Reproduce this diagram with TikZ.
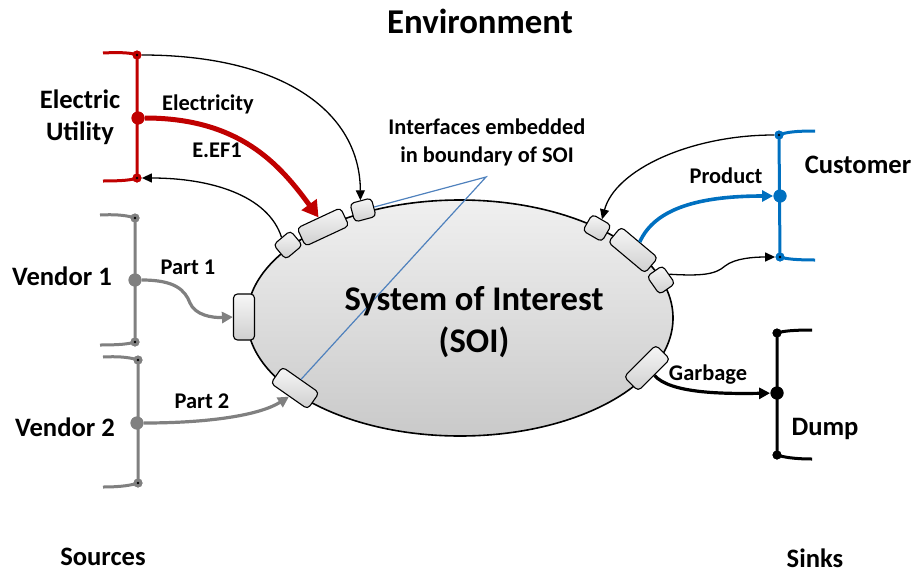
\documentclass[tikz,border=0pt]{standalone}
\usepackage{fontspec}
\setmainfont{Carlito}
\usetikzlibrary{arrows.meta,shapes.geometric}
\definecolor{utilred}{HTML}{C00000}
\definecolor{vendgray}{HTML}{808080}
\definecolor{custblue}{HTML}{0070C0}
\definecolor{callout}{HTML}{4F81BD}
\begin{document}
\begin{tikzpicture}[x=0.5pt,y=-0.5pt,
  small/.style={font=\bfseries\fontsize{11.2}{13}\selectfont, anchor=base},
  party/.style={font=\bfseries\fontsize{13.3}{16}\selectfont, anchor=base},
  big/.style={font=\bfseries\fontsize{17.3}{21}\selectfont, anchor=base},
  port/.style={draw=black, line width=0.55pt, rounded corners=2pt, inner sep=0pt,
    top color=gray!6, bottom color=gray!38},
  shortport/.style={port, minimum width=11pt, minimum height=9.5pt},
  longport/.style={port, minimum width=24pt, minimum height=10pt},
  sdot/.style={circle, fill=#1, inner sep=0pt, minimum size=4.5pt,
    path picture={\fill[black] (path picture bounding box.center) circle (0.7pt);}},
  bdot/.style={circle, fill=#1, inner sep=0pt, minimum size=6.5pt},
  brk/.style={draw=#1, line width=1.5pt},
  thin/.style={draw=black, line width=0.65pt, -{Triangle[length=5pt,width=4.5pt]}},
]
\useasboundingbox (0,0) rectangle (915,573);

% ---- system of interest ----
\node[ellipse, draw=black, line width=0.8pt, minimum width=213pt, minimum height=118pt,
  inner sep=0pt, top color=gray!12, bottom color=gray!42] (soi) at (460,318) {};

% ---- callout from the interface note ----
\coordinate (cp) at (486,177);

% ---- interfaces on the boundary ----
\node[shortport, rotate=40] (A) at (288,245) {};
\node[longport, rotate=25] (B) at (323,227) {};
\node[shortport, rotate=15] (C) at (363,210) {};
\node[port, minimum width=10.5pt, minimum height=23pt] (D) at (244,317) {};
\node[longport, minimum width=22.5pt, rotate=-35] (E) at (295,388) {};
\node[shortport, rotate=-30] (F) at (597,228) {};
\node[longport, rotate=-40] (G) at (633,250) {};
\node[shortport, rotate=-55] (H) at (661,280) {};
\node[longport, minimum width=22.5pt, rotate=45] (I) at (647,368) {};

\draw[callout, line width=0.6pt] (C.east) -- (cp) -- (E.north);

\node[big] (soi1) at (474,310) {System of Interest};
\node[big] (soi2) at (474,352) {(SOI)};

% ---- sources and sinks: bracket nodes ----
\node[sdot=utilred] (eutop) at (137,55) {};
\node[bdot=utilred] (eumid) at (138,118) {};
\node[sdot=utilred] (eubot) at (137,178) {};

\node[sdot=vendgray] (v1top) at (135,218) {};
\node[bdot=vendgray] (v1mid) at (135,280) {};
\node[sdot=vendgray] (v1bot) at (135,342) {};

\node[sdot=vendgray] (v2top) at (138,360) {};
\node[bdot=vendgray] (v2mid) at (137,423) {};
\node[sdot=vendgray] (v2bot) at (138,483) {};

\node[sdot=custblue] (cutop) at (779,135) {};
\node[bdot=custblue] (cumid) at (780,196) {};
\node[sdot=custblue] (cubot) at (780,257) {};

\node[sdot=black] (dtop) at (777,333) {};
\node[bdot=black] (dmid) at (777,393) {};
\node[sdot=black] (dbot) at (777,455) {};

% bracket bars and end stubs
\draw[brk=utilred] (103,53) .. controls (122,52) and (132,53) .. (eutop.center) -- (eubot.center)
  .. controls (132,180) and (122,181) .. (103,181);
\draw[brk=vendgray] (100,215) .. controls (119,214) and (129,216) .. (v1top.center) -- (v1bot.center)
  .. controls (129,344) and (119,345) .. (100,345);
\draw[brk=vendgray] (103,357) .. controls (122,356) and (132,358) .. (v2top.center) -- (v2bot.center)
  .. controls (132,485) and (122,487) .. (103,487);
\draw[brk=custblue] (815,131) .. controls (797,131) and (786,132) .. (cutop.center) -- (cubot.center)
  .. controls (786,259) and (797,260) .. (815,260);
\draw[brk=black] (812,330) .. controls (794,330) and (783,331) .. (dtop.center) -- (dbot.center)
  .. controls (783,457) and (794,459) .. (812,459);

% dots drawn again above the bars
\foreach \n/\c in {eutop/utilred,eubot/utilred,v1top/vendgray,v1bot/vendgray,v2top/vendgray,
  v2bot/vendgray,cutop/custblue,cubot/custblue,dtop/black,dbot/black}
  {\node[sdot=\c] at (\n) {};}
\foreach \n/\c in {eumid/utilred,v1mid/vendgray,v2mid/vendgray,cumid/custblue,dmid/black}
  {\node[bdot=\c] at (\n) {};}

% ---- flows ----
\draw[utilred, line width=2.5pt, -{Triangle[length=8pt,width=9pt]}]
  (eumid) .. controls (240,118) and (280,165) .. (B.north);
\draw[thin] (eutop) .. controls (280,55) and (360,110) .. (C.north);
\draw[thin] (A.north) .. controls (268,195) and (210,178) .. (eubot);

\draw[vendgray, line width=1.6pt, -{Triangle[length=5.5pt,width=5.5pt]}]
  (v1mid) .. controls (175,280) and (185,290) .. (190,303)
  .. controls (195,315) and (212,318) .. (D.west);
\draw[vendgray, line width=1.6pt, -{Triangle[length=5.5pt,width=5.5pt]}]
  (v2mid) .. controls (210,423) and (260,415) .. (E.south);

\draw[custblue, line width=1.8pt, -{Triangle[length=5.5pt,width=5.5pt]}]
  (G.north) .. controls (655,208) and (700,196) .. (cumid);
\draw[thin] (cutop) .. controls (690,135) and (615,170) .. (F.north);
\draw[thin] (H.north) .. controls (700,276) and (715,275) .. (725,266)
  .. controls (735,258) and (755,257) .. (cubot);

\draw[black, line width=1.6pt, -{Triangle[length=5.5pt,width=5.5pt]}]
  (I.south) .. controls (670,393) and (720,394) .. (dmid);

% ---- labels ----
\node[font=\bfseries\fontsize{17.4}{21}\selectfont, anchor=base] (env) at (480,33) {Environment};
\node[party] (eu1) at (80,108) {Electric};
\node[party] (eu2) at (80,140) {Utility};
\node[small] (lel) at (208,110) {Electricity};
\node[small] (lef) at (217,157) {E.EF1};
\node[party] (lv1) at (62,285) {Vendor 1};
\node[small] (lp1) at (188,274) {Part 1};
\node[party] (lv2) at (65,436) {Vendor 2};
\node[small] (lp2) at (202,408) {Part 2};
\node[small] (if1) at (487,134) {Interfaces embedded};
\node[small] (if2) at (487,162) {in boundary of SOI};
\node[party] (lcu) at (858,173) {Customer};
\node[small] (lpr) at (726,183) {Product};
\node[small] (lga) at (708,380) {Garbage};
\node[party] (ldu) at (825,435) {Dump};
\node[party] (lso) at (103,565) {Sources};
\node[party] (lsi) at (815,567) {Sinks};
\end{tikzpicture}
\end{document}
